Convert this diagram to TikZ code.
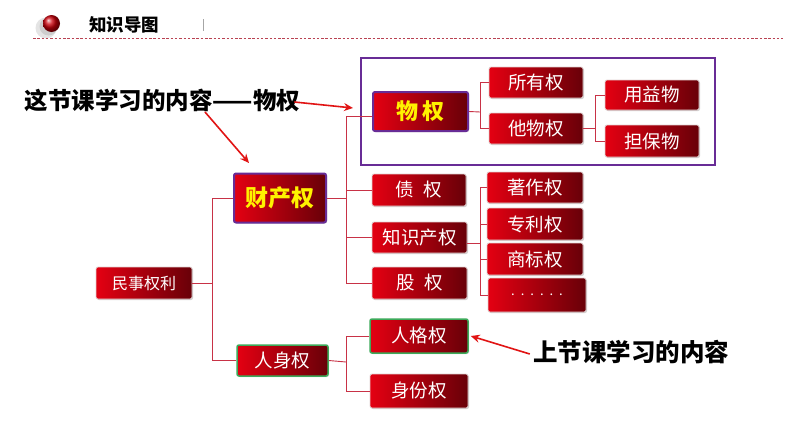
\documentclass[tikz,border=0pt]{standalone}
\usepackage{fontspec}
\setmainfont{Noto Sans CJK SC}
\usetikzlibrary{arrows.meta,shadows}
\definecolor{boxL}{RGB}{228,0,18}
\definecolor{boxR}{RGB}{104,0,8}
\definecolor{boxEdge}{RGB}{225,210,210}
\definecolor{purp}{RGB}{104,44,150}
\definecolor{grn}{RGB}{60,170,90}
\definecolor{linkc}{RGB}{200,50,70}
\definecolor{arr}{RGB}{225,20,20}
\definecolor{ttl}{RGB}{205,0,10}
\tikzset{
  rbox/.style={rectangle, rounded corners=2pt, left color=boxL, right color=boxR,
    draw=boxEdge, line width=0.8pt, text=white, font=\fontsize{18.5}{18.5}\selectfont,
    inner sep=0pt, minimum width=94pt, minimum height=31pt,
    drop shadow={shadow xshift=1pt, shadow yshift=-1pt, opacity=0.35}},
  keybox/.style={rbox, draw=purp, line width=2pt, text=yellow,
    font=\fontsize{22}{22}\selectfont\bfseries},
  grnbox/.style={rbox, draw=grn, line width=1.5pt},
  link/.style={draw=linkc, line width=0.9pt},
  note/.style={font=\fontsize{23.5}{24}\selectfont\bfseries, text=black, inner sep=0pt},
  redarrow/.style={draw=arr, line width=1.6pt, -{Stealth[length=9pt,width=8pt]}},
}
\begin{document}
\begin{tikzpicture}[x=1pt,y=-1pt]
\useasboundingbox (0,0) rectangle (794,447);
\fill[white] (0,0) rectangle (794,447);
% header
\fill[gray!60,opacity=0.35] (46,28) circle (10.5);
\fill[gray!60,opacity=0.45] (48.5,26.5) circle (9);
\shade[ball color=ttl] (51.5,23.5) circle (8.5);
\node[font=\fontsize{17.5}{17.5}\selectfont\bfseries, inner sep=0pt] (title) at (124,25) {知识导图};
\draw[gray!70, line width=0.8pt] (203,19) -- (203,31);
\draw[linkc!80!gray, line width=0.9pt, dash pattern=on 2.5pt off 1.8pt] (33,38.5) -- (783,38.5);
% purple frame
\draw[purp, line width=2pt] (361,58) rectangle (715,165);
% nodes
\node[rbox, minimum width=96pt, minimum height=32pt, font=\fontsize{16}{16}\selectfont] (minshi) at (144,283) {民事权利};
\node[keybox, minimum width=92pt, minimum height=49pt, font=\fontsize{23}{23}\selectfont\bfseries] (caichan) at (280,198) {财产权};
\node[grnbox, minimum width=91pt, minimum height=31pt] (renshen) at (282.5,360.5) {人身权};
\node[keybox, minimum width=95pt, minimum height=39pt] (wuquan) at (420.5,111.5) {物\,权};
\node[rbox] (suoyou) at (536,82.5) {所有权};
\node[rbox] (tawu) at (536,128.5) {他物权};
\node[rbox, minimum height=30pt] (yongyi) at (652,95) {用益物};
\node[rbox, minimum height=32pt] (danbao) at (652,141) {担保物};
\node[rbox, minimum height=32pt] (zhai) at (419,190) {债\hspace{0.5em}权};
\node[rbox, minimum width=95pt] (zhishi) at (419.5,237.5) {知识产权};
\node[rbox, minimum width=95pt, minimum height=32pt] (gu) at (419.5,283) {股\hspace{0.5em}权};
\node[rbox, minimum width=96pt] (zhuzuo) at (535,187.5) {著作权};
\node[rbox, minimum width=96pt, minimum height=32pt] (zhuanli) at (535,224) {专利权};
\node[rbox, minimum width=96pt, minimum height=32pt] (shangbiao) at (535,259) {商标权};
\node[rbox, minimum width=98pt, minimum height=34pt, font=\fontsize{13}{13}\selectfont] (dots) at (537,295) {.\hspace{6pt}.\hspace{6pt}.\hspace{6pt}.\hspace{6pt}.\hspace{6pt}.};
\node[grnbox, minimum width=98pt, minimum height=34pt] (renge) at (419,336) {人格权};
\node[rbox, minimum width=98pt, minimum height=34pt] (shenfen) at (419,391) {身份权};
% junctions
\coordinate (j1) at (212,283);
\coordinate (j2) at (346,198);
\coordinate (j3) at (346,362);
\coordinate (j4) at (480,112);
\coordinate (j5) at (595,128.5);
\coordinate (j6) at (480,243);
% connectors
\draw[link] (minshi.east) -- (j1);
\draw[link] (caichan.west) -| (j1);
\draw[link] (renshen.west) -| (j1);
\draw[link] (caichan.east) -- (j2);
\draw[link] ([yshift=-5pt]wuquan.west) -| (j2);
\draw[link] (zhai.west) -| (j2);
\draw[link] (zhishi.west) -| (j2);
\draw[link] (gu.west) -| (j2);
\draw[link] (renshen.east) -- (j3);
\draw[link] (renge.west) -| (j3);
\draw[link] (shenfen.west) -| (j3);
\draw[link] (wuquan.east) -- (j4);
\draw[link] (suoyou.west) -| (j4);
\draw[link] (tawu.west) -| (j4);
\draw[link] (tawu.east) -- (j5);
\draw[link] (yongyi.west) -| (j5);
\draw[link] (danbao.west) -| (j5);
\draw[link] (zhishi.east |- j6) -- (j6);
\draw[link] (zhuzuo.west) -| (j6);
\draw[link] (zhuanli.west) -| (j6);
\draw[link] (shangbiao.west) -| (j6);
\draw[link] (dots.west) -| (j6);
% annotations
\node[note] (ann1) at (162.5,100) {这节课学习的内容——物权};
\node[note, font=\fontsize{24.5}{25}\selectfont\bfseries] (ann2) at (631,352) {上节课学习的内容};
\coordinate (a1e) at (353,108);
\coordinate (a2s) at (205,112);
\coordinate (a2e) at (249,163);
\draw[redarrow] ([xshift=-6pt,yshift=-2pt]ann1.east) -- (a1e);
\draw[redarrow] (a2s) -- (a2e);
\draw[redarrow] ([xshift=-3pt,yshift=-2pt]ann2.west) -- ([xshift=2pt]renge.east);
\end{tikzpicture}
\end{document}
